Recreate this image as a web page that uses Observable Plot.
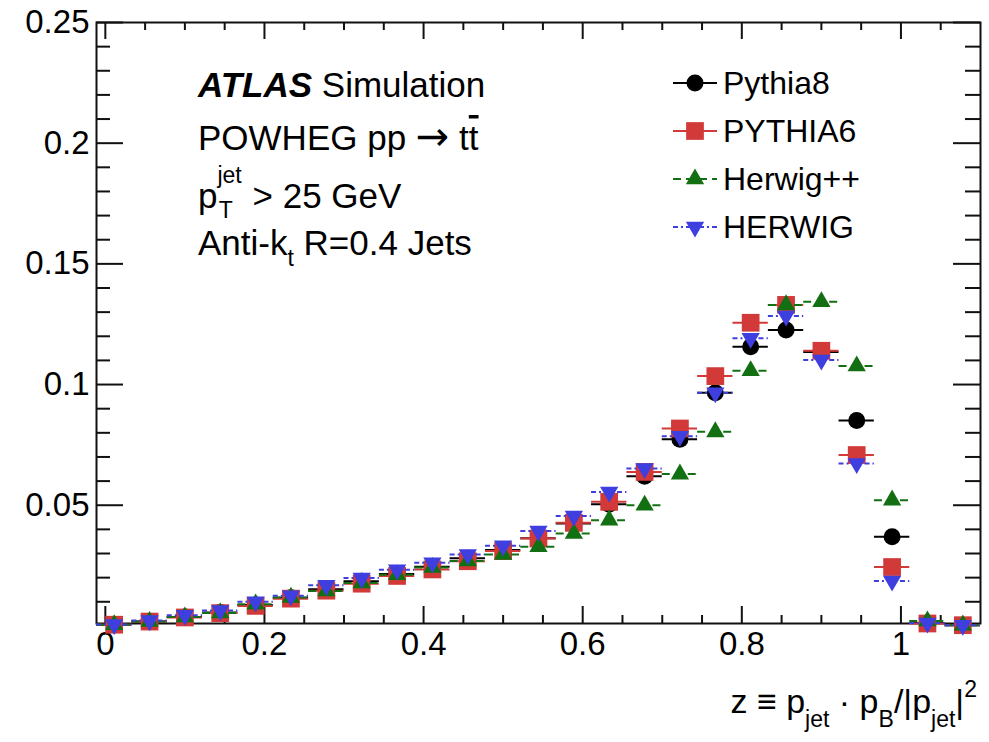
<!DOCTYPE html>
<html>
<head>
<meta charset="utf-8">
<script src="https://cdn.jsdelivr.net/npm/d3@7"></script>
<script src="https://cdn.jsdelivr.net/npm/@observablehq/plot@0.6"></script>
<style>
  body { margin: 0; background: #fff; }
  #chart { width: 989px; height: 742px; }
</style>
</head>
<body>
<div id="chart"></div>
<script>
// ---------------- data ----------------
const binCenters = [0.0111, 0.0556, 0.1, 0.1444, 0.1889, 0.2333, 0.2778, 0.3222, 0.3667, 0.4111,
  0.4556, 0.5, 0.5444, 0.5889, 0.6333, 0.6778, 0.7222, 0.7667, 0.8111, 0.8556,
  0.9, 0.9444, 0.9889, 1.0333, 1.0778];
const binHalfWidth = 0.0222;

const pythia8 = [0.0005, 0.0018, 0.0037, 0.0056, 0.0087, 0.0117, 0.0152, 0.0185, 0.0215, 0.0245,
  0.0280, 0.0315, 0.0363, 0.0424, 0.0504, 0.0620, 0.0773, 0.0966, 0.1157, 0.1226,
  0.1135, 0.0851, 0.0369, 0.0012, 0.0003];
const pythia6 = [0.0005, 0.0018, 0.0035, 0.0053, 0.0083, 0.0113, 0.0146, 0.0175, 0.0207, 0.0234,
  0.0268, 0.0310, 0.0362, 0.0427, 0.0514, 0.0638, 0.0818, 0.1035, 0.1256, 0.1330,
  0.1140, 0.0708, 0.0244, 0.0010, 0.0003];
const herwigpp = [0.0005, 0.0018, 0.0037, 0.0054, 0.0090, 0.0118, 0.0145, 0.0178, 0.0212, 0.0242,
  0.0269, 0.0296, 0.0328, 0.0383, 0.0438, 0.0500, 0.0629, 0.0804, 0.1057, 0.1330,
  0.1343, 0.1077, 0.0521, 0.0020, 0.0003];
const herwig = [0.0006, 0.0022, 0.0044, 0.0064, 0.0100, 0.0125, 0.0168, 0.0198, 0.0233, 0.0262,
  0.0296, 0.0332, 0.0393, 0.0455, 0.0555, 0.0652, 0.0786, 0.0966, 0.1192, 0.1284,
  0.1102, 0.0673, 0.0186, 0.0012, 0.0003];

const seriesNames = ["Pythia8", "PYTHIA6", "Herwig++", "HERWIG"];
const seriesValues = [pythia8, pythia6, herwigpp, herwig];

const xTickValues = [0, 0.2, 0.4, 0.6, 0.8, 1];
const xTickLabels = ["0", "0.2", "0.4", "0.6", "0.8", "1"];
const xMinorTicks = [0.05, 0.1, 0.15, 0.25, 0.3, 0.35, 0.45, 0.5, 0.55, 0.65, 0.7, 0.75, 0.85, 0.9, 0.95, 1.05];
const yTickValues = [0.05, 0.1, 0.15, 0.2, 0.25];
const yTickLabels = ["0.05", "0.1", "0.15", "0.2", "0.25"];
const yMinorTicks = [0.01, 0.02, 0.03, 0.04, 0.06, 0.07, 0.08, 0.09, 0.11, 0.12, 0.13, 0.14,
  0.16, 0.17, 0.18, 0.19, 0.21, 0.22, 0.23, 0.24];

// ---------------- styles ----------------
const FONT = "'Liberation Sans', Arial, Helvetica, sans-serif";
const W = 989, H = 742, mL = 96, mR = 9, mT = 22, mB = 119;
const innerW = W - mL - mR, innerH = H - mT - mB;

const triangleDown = {
  draw(ctx, size) {
    const y = -Math.sqrt(size / (Math.sqrt(3) * 3));
    ctx.moveTo(0, -y * 2);
    ctx.lineTo(Math.sqrt(3) * y, y);
    ctx.lineTo(-Math.sqrt(3) * y, y);
    ctx.closePath();
  }
};

const styles = {
  "Pythia8":  {color: "#000000", symbol: "circle",   r: 8.5, dash: null},
  "PYTHIA6":  {color: "#d23a3a", symbol: "square",   r: 10,  dash: null},
  "Herwig++": {color: "#127012", symbol: "triangle", r: 6.8, dash: "8,5"},
  "HERWIG":   {color: "#3f3fe0", symbol: triangleDown, r: 6.8, dash: "5,3,2,3"}
};

const tables = seriesNames.map((name, k) =>
  binCenters.map((x, i) => ({series: name, x, y: seriesValues[k][i]})));

const seriesMarks = tables.flatMap((rows, k) => {
  const s = styles[seriesNames[k]];
  return [
    Plot.ruleY(rows, {x1: d => d.x - binHalfWidth, x2: d => d.x + binHalfWidth, y: "y",
      stroke: s.color, strokeWidth: 2, strokeDasharray: s.dash}),
    Plot.dot(rows, {x: "x", y: "y", symbol: () => s.symbol, fill: s.color, stroke: "none", r: s.r})
  ];
});

const plot = Plot.plot({
  width: W, height: H,
  marginLeft: mL, marginRight: mR, marginTop: mT, marginBottom: mB,
  style: {fontFamily: FONT, color: "#000", background: "#fff"},
  symbol: {type: "identity"},
  x: {domain: [-0.0111, 1.1]},
  y: {domain: [0.001, 0.25]},
  marks: [
    Plot.axisX(xTickValues, {anchor: "bottom", tickSize: 0, tickPadding: 8, fontSize: 33, label: null,
      tickFormat: d => xTickLabels[xTickValues.indexOf(d)]}),
    Plot.axisY(yTickValues, {anchor: "left", tickSize: 0, tickPadding: 7, fontSize: 33, label: null,
      tickFormat: d => yTickLabels[yTickValues.indexOf(d)]}),
    // inward ticks, bottom and top
    Plot.tickX(xTickValues, {x: d => d, insetTop: innerH - 17, stroke: "#111", strokeWidth: 2}),
    Plot.tickX(xMinorTicks, {x: d => d, insetTop: innerH - 8, stroke: "#111", strokeWidth: 2}),
    Plot.tickX(xTickValues, {x: d => d, insetBottom: innerH - 17, stroke: "#111", strokeWidth: 2}),
    Plot.tickX(xMinorTicks, {x: d => d, insetBottom: innerH - 8, stroke: "#111", strokeWidth: 2}),
    // inward ticks, left and right
    Plot.tickY(yTickValues, {y: d => d, insetRight: innerW - 27, stroke: "#111", strokeWidth: 2}),
    Plot.tickY(yMinorTicks, {y: d => d, insetRight: innerW - 14, stroke: "#111", strokeWidth: 2}),
    Plot.tickY(yTickValues, {y: d => d, insetLeft: innerW - 27, stroke: "#111", strokeWidth: 2}),
    Plot.tickY(yMinorTicks, {y: d => d, insetLeft: innerW - 15, stroke: "#111", strokeWidth: 2}),
    Plot.frame({stroke: "#111", strokeWidth: 2}),
    ...seriesMarks
  ]
});

document.getElementById("chart").appendChild(plot);

// ---------------- text annotations ----------------
const svg = d3.select(plot);
const ann = svg.append("g").attr("font-family", FONT).attr("fill", "#000").attr("text-anchor", "start");

// x-axis title
const xt = ann.append("text").attr("x", 977).attr("y", 713).attr("text-anchor", "end").attr("font-size", 34);
xt.append("tspan").text("z \u2261 p");
xt.append("tspan").attr("font-size", 23).attr("dy", 14).text("jet");
xt.append("tspan").attr("dy", -14).text(" \u00b7 p");
xt.append("tspan").attr("font-size", 23).attr("dy", 14).text("B");
xt.append("tspan").attr("dy", -14).text("/|p");
xt.append("tspan").attr("font-size", 23).attr("dy", 14).text("jet");
xt.append("tspan").attr("dy", -14).text("|");
xt.append("tspan").attr("font-size", 23).attr("dy", -16).text("2");

// ATLAS label
const t1 = ann.append("text").attr("x", 198).attr("y", 97).attr("font-size", 35);
t1.append("tspan").attr("font-weight", "bold").attr("font-style", "italic").text("ATLAS");
t1.append("tspan").text(" Simulation");

const t2 = ann.append("text").attr("x", 198).attr("y", 150).attr("font-size", 35);
t2.append("tspan").text("POWHEG pp ");
t2.append("tspan").attr("font-family", "'DejaVu Sans', sans-serif").attr("font-size", 40).text("\u2192");
t2.append("tspan").text(" t");
t2.append("tspan").style("text-decoration", "overline").text("t");

const t3 = ann.append("text").attr("x", 198).attr("y", 208).attr("font-size", 35);
t3.append("tspan").text("p");
t3.append("tspan").attr("font-size", 23).attr("dy", -25).text("jet");
t3.append("tspan").attr("font-size", 23).attr("dx", -23).attr("dy", 35).text("T");
t3.append("tspan").attr("dx", 10).attr("dy", -10).text(" > 25 GeV");

const t4 = ann.append("text").attr("x", 198).attr("y", 255).attr("font-size", 35);
t4.append("tspan").text("Anti-k");
t4.append("tspan").attr("font-size", 23).attr("dy", 11).text("t");
t4.append("tspan").attr("dy", -11).text(" R=0.4 Jets");

// ---------------- legend ----------------
const leg = svg.append("g").attr("font-family", FONT).attr("text-anchor", "start");
seriesNames.forEach((name, i) => {
  const s = styles[name];
  const cy = 83 + i * 48;
  const g = leg.append("g").attr("transform", `translate(695,${cy})`);
  g.append("line").attr("x1", -22).attr("x2", 22).attr("y1", 0).attr("y2", 0)
    .attr("stroke", s.color).attr("stroke-width", 2).attr("stroke-dasharray", s.dash);
  const sym = typeof s.symbol === "string"
    ? {circle: d3.symbolCircle, square: d3.symbolSquare, triangle: d3.symbolTriangle}[s.symbol]
    : s.symbol;
  g.append("path").attr("d", d3.symbol(sym, Math.PI * s.r * s.r)()).attr("fill", s.color);
  leg.append("text").attr("x", 723).attr("y", cy + 11).attr("font-size", 32).attr("fill", "#000").text(name);
});
</script>
</body>
</html>
